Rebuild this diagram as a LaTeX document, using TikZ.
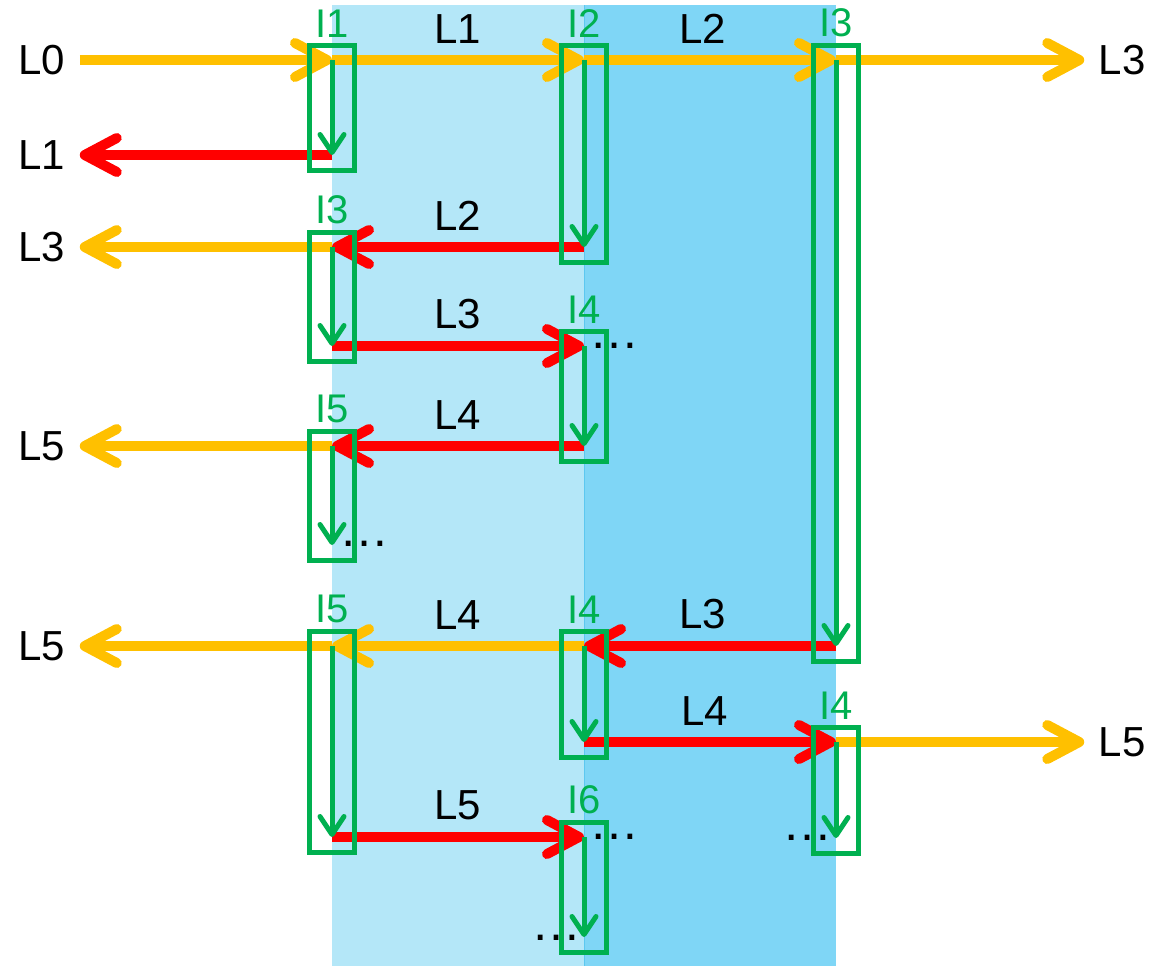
\documentclass[tikz,border=0pt]{standalone}
\usepackage{fontspec}
\setmainfont{Liberation Sans}
\usetikzlibrary{arrows.meta,fit}

\definecolor{lineyellow}{HTML}{FFC000}
\definecolor{linered}{HTML}{FF0000}
\definecolor{boxgreen}{HTML}{00B050}
\definecolor{bglight}{HTML}{B4E7F8}
\definecolor{bgdark}{HTML}{7FD6F6}
\definecolor{bgedge}{HTML}{5CC8F0}

\begin{document}
\begin{tikzpicture}[x=0.5pt, y=-0.5pt,
  font=\fontsize{21}{25}\selectfont,
  yline/.style={draw=lineyellow, line width=5pt, -{Straight Barb[length=16pt,width=17pt,round]}},
  rline/.style={draw=linered, line width=5pt, -{Straight Barb[length=16pt,width=17pt,round]}},
  garrow/.style={draw=boxgreen, line width=2.5pt, -{Straight Barb[length=9pt,width=12pt,round]}},
  ibox/.style={draw=boxgreen, line width=2.5pt, inner xsep=11.25pt, inner ysep=7.5pt},
  ilabel/.style={text=boxgreen, inner sep=0pt, yshift=2.5pt, font=\fontsize{20}{24}\selectfont},
  llabel/.style={midway, above=6pt, inner sep=0pt, text=black},
  endlabel/.style={inner ysep=0pt, inner xsep=7pt},
  dotlabel/.style={inner sep=0pt, anchor=west, font=\fontsize{25}{30}\selectfont}]

\useasboundingbox (0,0) rectangle (1163,966);

% Background bands
\fill[bglight] (332,5) rectangle (584,966);
\fill[bgdark] (584,5) rectangle (836,966);
\draw[bgedge, line width=0.5pt] (584,5) -- (584,966);

% Points where lines meet
\coordinate (t1) at (332,60);   \coordinate (e1) at (332,155);
\coordinate (t2) at (584,60);   \coordinate (e2) at (584,247);
\coordinate (t3) at (836,60);   \coordinate (e3) at (836,646);
\coordinate (t4) at (332,247);  \coordinate (e4) at (332,346);
\coordinate (t5) at (584,346);  \coordinate (e5) at (584,446);
\coordinate (t6) at (332,446);  \coordinate (e6) at (332,545);
\coordinate (t7) at (332,646);  \coordinate (e7) at (332,837);
\coordinate (t8) at (584,646);  \coordinate (e8) at (584,742);
\coordinate (t9) at (836,742);  \coordinate (e9) at (836,838);
\coordinate (t10) at (584,837); \coordinate (e10) at (584,937);

% Outer labels
\node[endlabel] (l0) at (42,60) {L0};
\node[endlabel] (l1) at (42,155) {L1};
\node[endlabel] (l3) at (42,247) {L3};
\node[endlabel] (l5a) at (42,446) {L5};
\node[endlabel] (l5b) at (42,646) {L5};
\node[endlabel] (r3) at (1122,60) {L3};
\node[endlabel] (r5) at (1122,742) {L5};

% Top row
\draw[yline] (l0) -- (t1);
\draw[yline] (t1) -- node[llabel] {L1} (t2);
\draw[yline] (t2) -- node[llabel, pos=0.47] {L2} (t3);
\draw[yline] (t3) -- (r3);

% Returns
\draw[rline] (e1) -- (l1);
\draw[rline] (e2) -- node[llabel] {L2} (t4);
\draw[yline] (t4) -- (l3);
\draw[rline] (e4) -- node[llabel] {L3} (t5);
\draw[rline] (e5) -- node[llabel] {L4} (t6);
\draw[yline] (t6) -- (l5a);
\draw[rline] (e3) -- node[llabel, pos=0.53] {L3} (t8);
\draw[yline] (t8) -- node[llabel] {L4} (t7);
\draw[yline] (t7) -- (l5b);
\draw[rline] (e8) -- node[llabel, pos=0.48] {L4} (t9);
\draw[yline] (t9) -- (r5);
\draw[rline] (e7) -- node[llabel] {L5} (t10);

% Dots
\node[dotlabel] (d1) at (589,346) {…};
\node[dotlabel] (d2) at (339,544) {…};
\node[dotlabel] (d3) at (782,838) {…};
\node[dotlabel] (d4) at (589,837) {…};
\node[dotlabel] (d5) at (531,938) {…};

% Green boxes
\foreach \i/\name in {1/I1,2/I2,3/I3,4/I3,5/I4,6/I5,7/I5,8/I4,9/I4,10/I6}{
  \draw[garrow] (t\i) -- (e\i);
  \node[ibox, fit=(t\i)(e\i), label={[ilabel]above:\name}] (b\i) {};
}

\end{tikzpicture}
\end{document}
